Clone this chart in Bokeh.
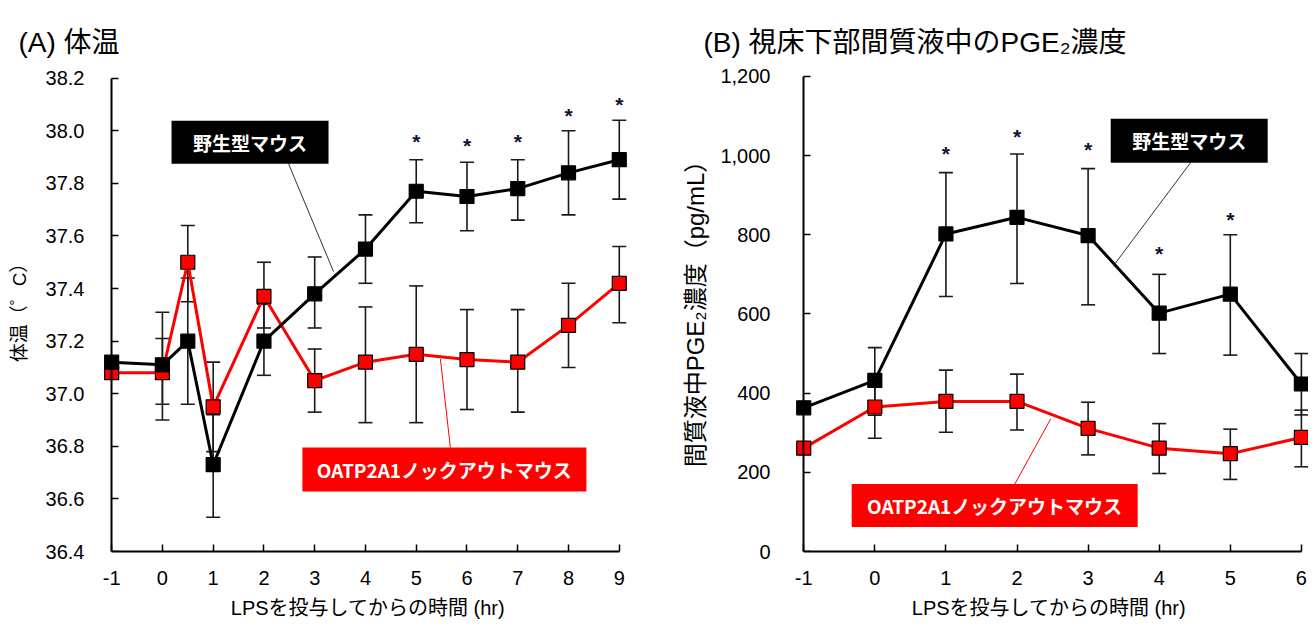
from bokeh.plotting import figure
from bokeh.models import (Range1d, FixedTicker, NumeralTickFormatter, Whisker, TeeHead,
                          ColumnDataSource, LinearAxis)
from bokeh.layouts import row
from bokeh.core.properties import value
from bokeh.embed import file_html
from bokeh.resources import INLINE

# ---------------- data ----------------
# Panel A: body temperature
hours_a = [-1, 0, 0.5, 1, 2, 3, 4, 5, 6, 7, 8, 9]
wt_temp = [37.12, 37.11, 37.20, 36.73, 37.20, 37.38, 37.55, 37.77, 37.75, 37.78, 37.84, 37.89]
wt_temp_hi = [37.14, 37.31, 37.44, 36.92, 37.34, 37.52, 37.68, 37.89, 37.88, 37.89, 38.00, 38.04]
wt_temp_lo = [37.10, 36.90, 36.96, 36.53, 37.07, 37.25, 37.42, 37.65, 37.62, 37.66, 37.68, 37.74]
ko_temp = [37.08, 37.08, 37.50, 36.95, 37.37, 37.05, 37.12, 37.15, 37.13, 37.12, 37.26, 37.42]
ko_temp_hi = [37.10, 37.21, 37.64, 37.12, 37.50, 37.17, 37.33, 37.41, 37.32, 37.32, 37.42, 37.56]
ko_temp_lo = [37.06, 36.96, 37.35, 36.78, 37.25, 36.93, 36.89, 36.89, 36.94, 36.93, 37.10, 37.27]
star_hours_a = [5, 6, 7, 8, 9]
star_temp = [38.003, 37.988, 38.003, 38.104, 38.147]
xticks_a = [-1, 0, 1, 2, 3, 4, 5, 6, 7, 8, 9]
yticks_a = [36.4, 36.6, 36.8, 37.0, 37.2, 37.4, 37.6, 37.8, 38.0, 38.2]

# Panel B: PGE2 concentration
hours_b = [-1, 0, 1, 2, 3, 4, 5, 6]
wt_pge = [363, 432, 802, 844, 798, 602, 650, 423]
wt_pge_hi = [378, 515, 957, 1004, 967, 700, 800, 500]
wt_pge_lo = [350, 344, 644, 677, 623, 500, 496, 345]
ko_pge = [261, 365, 379, 379, 311, 261, 247, 288]
ko_pge_hi = [272, 440, 458, 448, 377, 323, 309, 357]
ko_pge_lo = [250, 286, 301, 307, 244, 197, 182, 214]
star_hours_b = [1, 2, 3, 4, 5]
star_pge = [1036, 1078, 1045, 782, 870]
xticks_b = [-1, 0, 1, 2, 3, 4, 5, 6]
yticks_b = [0, 200, 400, 600, 800, 1000, 1200]

label_wt = "野生型マウス"
label_ko = "OATP2A1ノックアウトマウス"
xlabel = "LPSを投与してからの時間 (hr)"

LATIN = "Liberation Sans, Noto Sans CJK JP"
CJK = "Noto Sans CJK JP"


def style_axes(p, xticks, yticks, yfmt, ylabel, ylabel_size, y_standoff, ylab_standoff,
               title, title_offset):
    p.xgrid.visible = False
    p.ygrid.visible = False
    p.outline_line_color = None
    # bottom axis
    xa = p.xaxis[0]
    xa.ticker = FixedTicker(ticks=xticks)
    xa.formatter = NumeralTickFormatter(format="0")
    xa.bounds = (xticks[0], xticks[-1])
    xa.axis_line_color = "black"
    xa.axis_line_width = 2
    xa.major_tick_line_color = "black"
    xa.major_tick_line_width = 1.5
    xa.major_tick_in = 7
    xa.major_tick_out = 0
    xa.minor_tick_line_color = None
    xa.major_label_text_font = LATIN
    xa.major_label_text_font_size = "20px"
    xa.major_label_text_color = "black"
    xa.major_label_standoff = 19
    xa.axis_label = xlabel
    xa.axis_label_text_font = LATIN
    xa.axis_label_text_font_style = "normal"
    xa.axis_label_text_font_size = "20px"
    xa.axis_label_text_color = "black"
    xa.axis_label_standoff = 9
    # left axis: labels only (line & ticks drawn by the fixed axis at x = first tick)
    ya = p.yaxis[0]
    ya.ticker = FixedTicker(ticks=yticks)
    ya.formatter = NumeralTickFormatter(format=yfmt)
    ya.axis_line_color = None
    ya.major_tick_line_color = None
    ya.minor_tick_line_color = None
    ya.major_tick_in = 0
    ya.major_tick_out = 0
    ya.major_label_text_font = LATIN
    ya.major_label_text_font_size = "20px"
    ya.major_label_text_color = "black"
    ya.major_label_standoff = y_standoff
    ya.axis_label = ylabel
    ya.axis_label_text_font = LATIN
    ya.axis_label_text_font_style = "normal"
    ya.axis_label_text_font_size = ylabel_size
    ya.axis_label_text_color = "black"
    ya.axis_label_standoff = ylab_standoff
    # axis line and inward ticks at x = first tick (centre of first markers), no labels
    yfix = LinearAxis(ticker=FixedTicker(ticks=yticks), fixed_location=xticks[0],
                      bounds=(yticks[0], yticks[-1]), axis_line_color="black",
                      axis_line_width=2, major_tick_line_color="black",
                      major_tick_line_width=1.5, major_tick_in=7, major_tick_out=0,
                      minor_tick_line_color=None, major_label_text_font_size="0px",
                      major_label_text_color=None, major_label_standoff=0)
    p.add_layout(yfix, "left")
    # title
    p.title.text = title
    p.title.align = "left"
    p.title.offset = title_offset
    p.title.text_font = LATIN
    p.title.text_font_size = "28px"
    p.title.text_font_style = "normal"
    p.title.text_color = "black"
    p.title.standoff = 14


def draw_series(p, xs, y, hi, lo, color):
    src = ColumnDataSource(dict(x=xs, y=y, hi=hi, lo=lo))
    w = Whisker(source=src, base="x", upper="hi", lower="lo", dimension="height",
                line_color="#1a1a1a", line_width=1.6,
                upper_head=TeeHead(size=14, line_color="#1a1a1a", line_width=1.6),
                lower_head=TeeHead(size=14, line_color="#1a1a1a", line_width=1.6))
    p.add_layout(w)
    p.line("x", "y", source=src, line_color=color, line_width=3)
    p.scatter("x", "y", source=src, marker="square", size=14,
              fill_color=color, line_color="black", line_width=1.2)


def draw_tag(p, cx, cy, w, h, text, fill, x0, y0, x1, y1, lc):
    p.segment(x0=[x0], y0=[y0], x1=[x1], y1=[y1], line_color=lc, line_width=1)
    p.rect(x=[cx], y=[cy], width=w, height=h, width_units="screen", height_units="screen",
           fill_color=fill, line_color=None)
    p.text(x=[cx], y=[cy], text=[text], text_align="center", text_baseline="middle",
           text_color="white", text_font=value(CJK), text_font_style="bold",
           text_font_size="19px")


def draw_stars(p, xs, ys):
    p.text(x=xs, y=ys, text=["*"] * len(xs), text_align="center", text_baseline="alphabetic",
           y_offset=12, text_color="#111133", text_font=value("Liberation Sans"),
           text_font_style="bold", text_font_size="21px")


# ---------------- Panel A ----------------
pA = figure(width=658, height=626, output_backend="svg", toolbar_location=None,
            x_range=Range1d(-1.2, 9.3), y_range=Range1d(36.4, 38.252),
            min_border_left=101, min_border_right=24, min_border_top=59, min_border_bottom=75)
style_axes(pA, xticks_a, yticks_a, "0.0", "体温（゜C）", "19px", 17, 13, "(A) 体温", -83)
draw_series(pA, hours_a, ko_temp, ko_temp_hi, ko_temp_lo, "#ff0000")
draw_series(pA, hours_a, wt_temp, wt_temp_hi, wt_temp_lo, "black")
draw_tag(pA, 1.726, 37.956, 157, 43, label_wt, "black", 2.484, 37.875, 3.370, 37.465, "#333333")
draw_tag(pA, 5.555, 36.712, 284, 44, label_ko, "#ff0000", 5.673, 36.795, 5.476, 37.133, "#ff0000")
draw_stars(pA, star_hours_a, star_temp)

# ---------------- Panel B ----------------
pB = figure(width=650, height=626, output_backend="svg", toolbar_location=None,
            x_range=Range1d(-1.2, 6.1), y_range=Range1d(0, 1230),
            min_border_left=131, min_border_right=0, min_border_top=64, min_border_bottom=70)
style_axes(pB, xticks_b, yticks_b, "0,0", "間質液中PGE₂濃度（pg/mL）", "24px", 19, 8,
           "(B) 視床下部間質液中のPGE₂濃度", -86)
draw_series(pB, hours_b, ko_pge, ko_pge_hi, ko_pge_lo, "#ff0000")
draw_series(pB, hours_b, wt_pge, wt_pge_hi, wt_pge_lo, "black")
draw_tag(pB, 4.422, 1037.5, 157, 44, label_wt, "black", 4.443, 982.5, 3.360, 722.5, "#333333")
draw_tag(pB, 1.686, 116, 286, 43, label_ko, "#ff0000", 1.968, 170, 2.474, 335, "#ff0000")
draw_stars(pB, star_hours_b, star_pge)

layout = row(pA, pB)
open("out.html", "w").write(file_html(layout, INLINE))
